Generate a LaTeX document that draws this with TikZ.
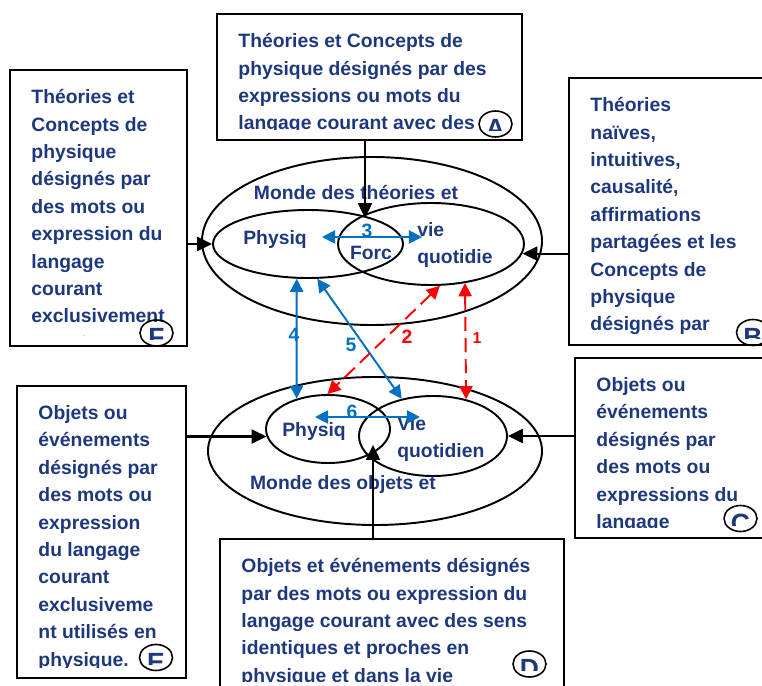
\documentclass[tikz,border=0pt]{standalone}
\usepackage{fontspec}
\setmainfont{Liberation Sans}
\usepackage{xcolor}
\usepackage{tikz}
\usetikzlibrary{shapes.geometric, arrows.meta, positioning, calc}
\definecolor{mynavy}{RGB}{30,56,125}
\definecolor{myblue}{RGB}{0,112,192}
\definecolor{myred}{RGB}{255,0,0}
\tikzset{
  plain/.style={shape=rectangle, draw=none, fill=none, minimum width=0pt,
    minimum height=0pt, inner sep=0pt, path picture={}},
  boxtxt/.style={plain, font=\fontsize{11}{15.6}\selectfont\bfseries, text=mynavy,
    align=left, anchor=north west},
  cbox/.style={rectangle, draw=black, fill=white, line width=1.1pt, inner sep=0pt,
    path picture={
      \clip ([yshift=0.21cm]path picture bounding box.south west) rectangle (path picture bounding box.north east);
      \node[boxtxt] at ([xshift=0.41cm,yshift=-0.37cm]path picture bounding box.north west) {#1};
    }},
  letterc/.style={ellipse, draw=black, line width=0.9pt, minimum width=0.66cm,
    minimum height=0.52cm, inner sep=0pt,
    path picture={
      \clip ([yshift=0.13cm]path picture bounding box.south west) rectangle (path picture bounding box.north east);
      \node[plain, anchor=north, font=\fontsize{15}{15}\selectfont\bfseries, text=mynavy]
        at ([yshift=0.1cm]path picture bounding box.center) {#1};
    }},
  ell/.style={ellipse, draw=black, line width=1.1pt, inner sep=0pt},
  elltxt/.style={font=\fontsize{11}{15.6}\selectfont\bfseries, text=mynavy, inner sep=0pt, align=left},
  numtxt/.style={font=\fontsize{11}{13}\selectfont\bfseries, inner sep=0pt},
  arrow/.style={-{Triangle[length=8.5pt,width=8pt]}, line width=1.2pt, color=black},
  bluearrow/.style={{Triangle[length=7.5pt,width=7.5pt]}-{Triangle[length=7.5pt,width=7.5pt]}, line width=1.1pt, color=myblue},
  redarrow/.style={{Triangle[length=7.5pt,width=7.5pt]}-{Triangle[length=7.5pt,width=7.5pt]}, line width=1.1pt, color=myred,
    dash pattern=on 8pt off 4pt}
}
\begin{document}
\begin{tikzpicture}
  \useasboundingbox (0,0) rectangle (15.24,-13.72);
  \clip (0,0) rectangle (15.24,-13.72);

  % Monde des theories (top)
  \node[ell, minimum width=6.8cm, minimum height=3.36cm] (mondeT) at (7.44,-4.82) {};
  \node[ell, minimum width=3.8cm, minimum height=1.36cm] (physT) at (6.16,-4.88) {};
  \node[ell, minimum width=3.72cm, minimum height=1.64cm] (vieT) at (8.62,-4.88) {};
  \node[elltxt] (mondeT_lbl) at (7.12,-3.86) {Monde des théories et};
  \node[elltxt] (physT_lbl) at (5.5,-4.8) {Physiq};
  \node[elltxt] (forc_lbl) at (7.42,-5.06) {Forc};
  \node[elltxt, anchor=west] (vieT_lbl) at (8.34,-4.9) {vie\\quotidie};

  % Monde des objets (bottom)
  \node[ell, minimum width=6.68cm, minimum height=2.96cm] (mondeB) at (7.5,-9.02) {};
  \node[ell, minimum width=2.48cm, minimum height=1.36cm] (physB) at (6.56,-8.58) {};
  \node[ell, minimum width=2.96cm, minimum height=1.6cm] (vieB) at (8.66,-8.72) {};
  \node[elltxt] (mondeB_lbl) at (6.86,-9.7) {Monde des objets et};
  \node[elltxt] (physB_lbl) at (6.28,-8.64) {Physiq};
  \node[elltxt, anchor=west] (vieB_lbl) at (7.94,-8.78) {Vie\\quotidien};

  % Boxes
  \node[cbox={Théories et Concepts de\\physique désignés par des\\expressions ou mots du\\langage courant avec des}, minimum width=6.1cm, minimum height=2.52cm] (boxA) at (7.39,-1.54) {};
  \node[cbox={Théories et\\Concepts de\\physique\\désignés par\\des mots ou\\expression du\\langage\\courant\\exclusivement\\utilisés en physique.}, minimum width=3.54cm, minimum height=5.52cm] (boxF) at (1.97,-4.16) {};
  \node[cbox={Théories\\naïves,\\intuitives,\\causalité,\\affirmations\\partagées et les\\Concepts de\\physique\\désignés par}, minimum width=4.18cm, minimum height=5.34cm] (boxB) at (13.47,-4.23) {};
  \node[cbox={Objets ou\\événements\\désignés par\\des mots ou\\expression\\du langage\\courant\\exclusiveme\\nt utilisés en\\physique.}, minimum width=3.38cm, minimum height=5.84cm] (boxE) at (2.03,-10.64) {};
  \node[cbox={Objets ou\\événements\\désignés par\\des mots ou\\expressions du\\langage}, minimum width=4.06cm, minimum height=3.6cm] (boxC) at (13.53,-8.96) {};
  \node[cbox={Objets et événements désignés\\par des mots ou expression du\\langage courant avec des sens\\identiques et proches en\\physique et dans la vie}, minimum width=6.88cm, minimum height=3.06cm] (boxD) at (7.84,-12.31) {};

  % Letter marks
  \node[letterc={A}] (circA) at (9.91,-2.48) {};
  \node[letterc={F}] (circF) at (3.13,-6.66) {};
  \node[letterc={B}] (circB) at (15.06,-6.65) {};
  \node[letterc={C}] (circC) at (14.81,-10.37) {};
  \node[letterc={D}] (circD) at (10.59,-13.28) {};
  \node[letterc={E}] (circE) at (3.12,-13.15) {};

  % Arrows from the boxes
  \coordinate (lensT) at (7.3,-4.36);
  \coordinate (lensB) at (7.46,-8.9);
  \draw[arrow] (lensT |- boxA.south) -- (lensT);
  \draw[arrow] (boxF.east |- physT.west) -- (physT.west);
  \draw[arrow] (boxB.west |- vieT.-6) -- (vieT.-6);
  \draw[arrow] (boxE.east |- physB.187) -- (physB.187);
  \draw[arrow] (boxC.west |- vieB.east) -- (vieB.east);
  \draw[arrow] (lensB |- boxD.north) -- (lensB);

  % Links between the two worlds
  \coordinate (t3a) at (6.44,-4.74);
  \coordinate (t3b) at (8.44,-4.74);
  \coordinate (t6a) at (6.3,-8.34);
  \coordinate (t6b) at (8.4,-8.34);
  \draw[bluearrow] (t3a) -- (t3b);
  \node[numtxt, text=myblue] (n3) at (7.34,-4.62) {3};
  \draw[bluearrow] (t6a) -- (t6b);
  \node[numtxt, text=myblue] (n6) at (7.04,-8.24) {6};
  \draw[bluearrow] (physT.252) -- (physB.136.5);
  \node[numtxt, text=myblue] (n4) at (5.88,-6.7) {4};
  \draw[bluearrow] (physT.285) -- (vieB.130.5);
  \node[numtxt, text=myblue] (n5) at (7.02,-6.9) {5};
  \draw[redarrow] (vieT.282.4) -- (physB.91);
  \node[numtxt, text=myred] (n2) at (8.14,-6.74) {2};
  \draw[redarrow] (vieT.311.7) -- (vieB.48.4);
  \node[numtxt, text=myred, font=\fontsize{9}{11}\selectfont\bfseries] (n1) at (9.54,-6.76) {1};
\end{tikzpicture}
\end{document}
